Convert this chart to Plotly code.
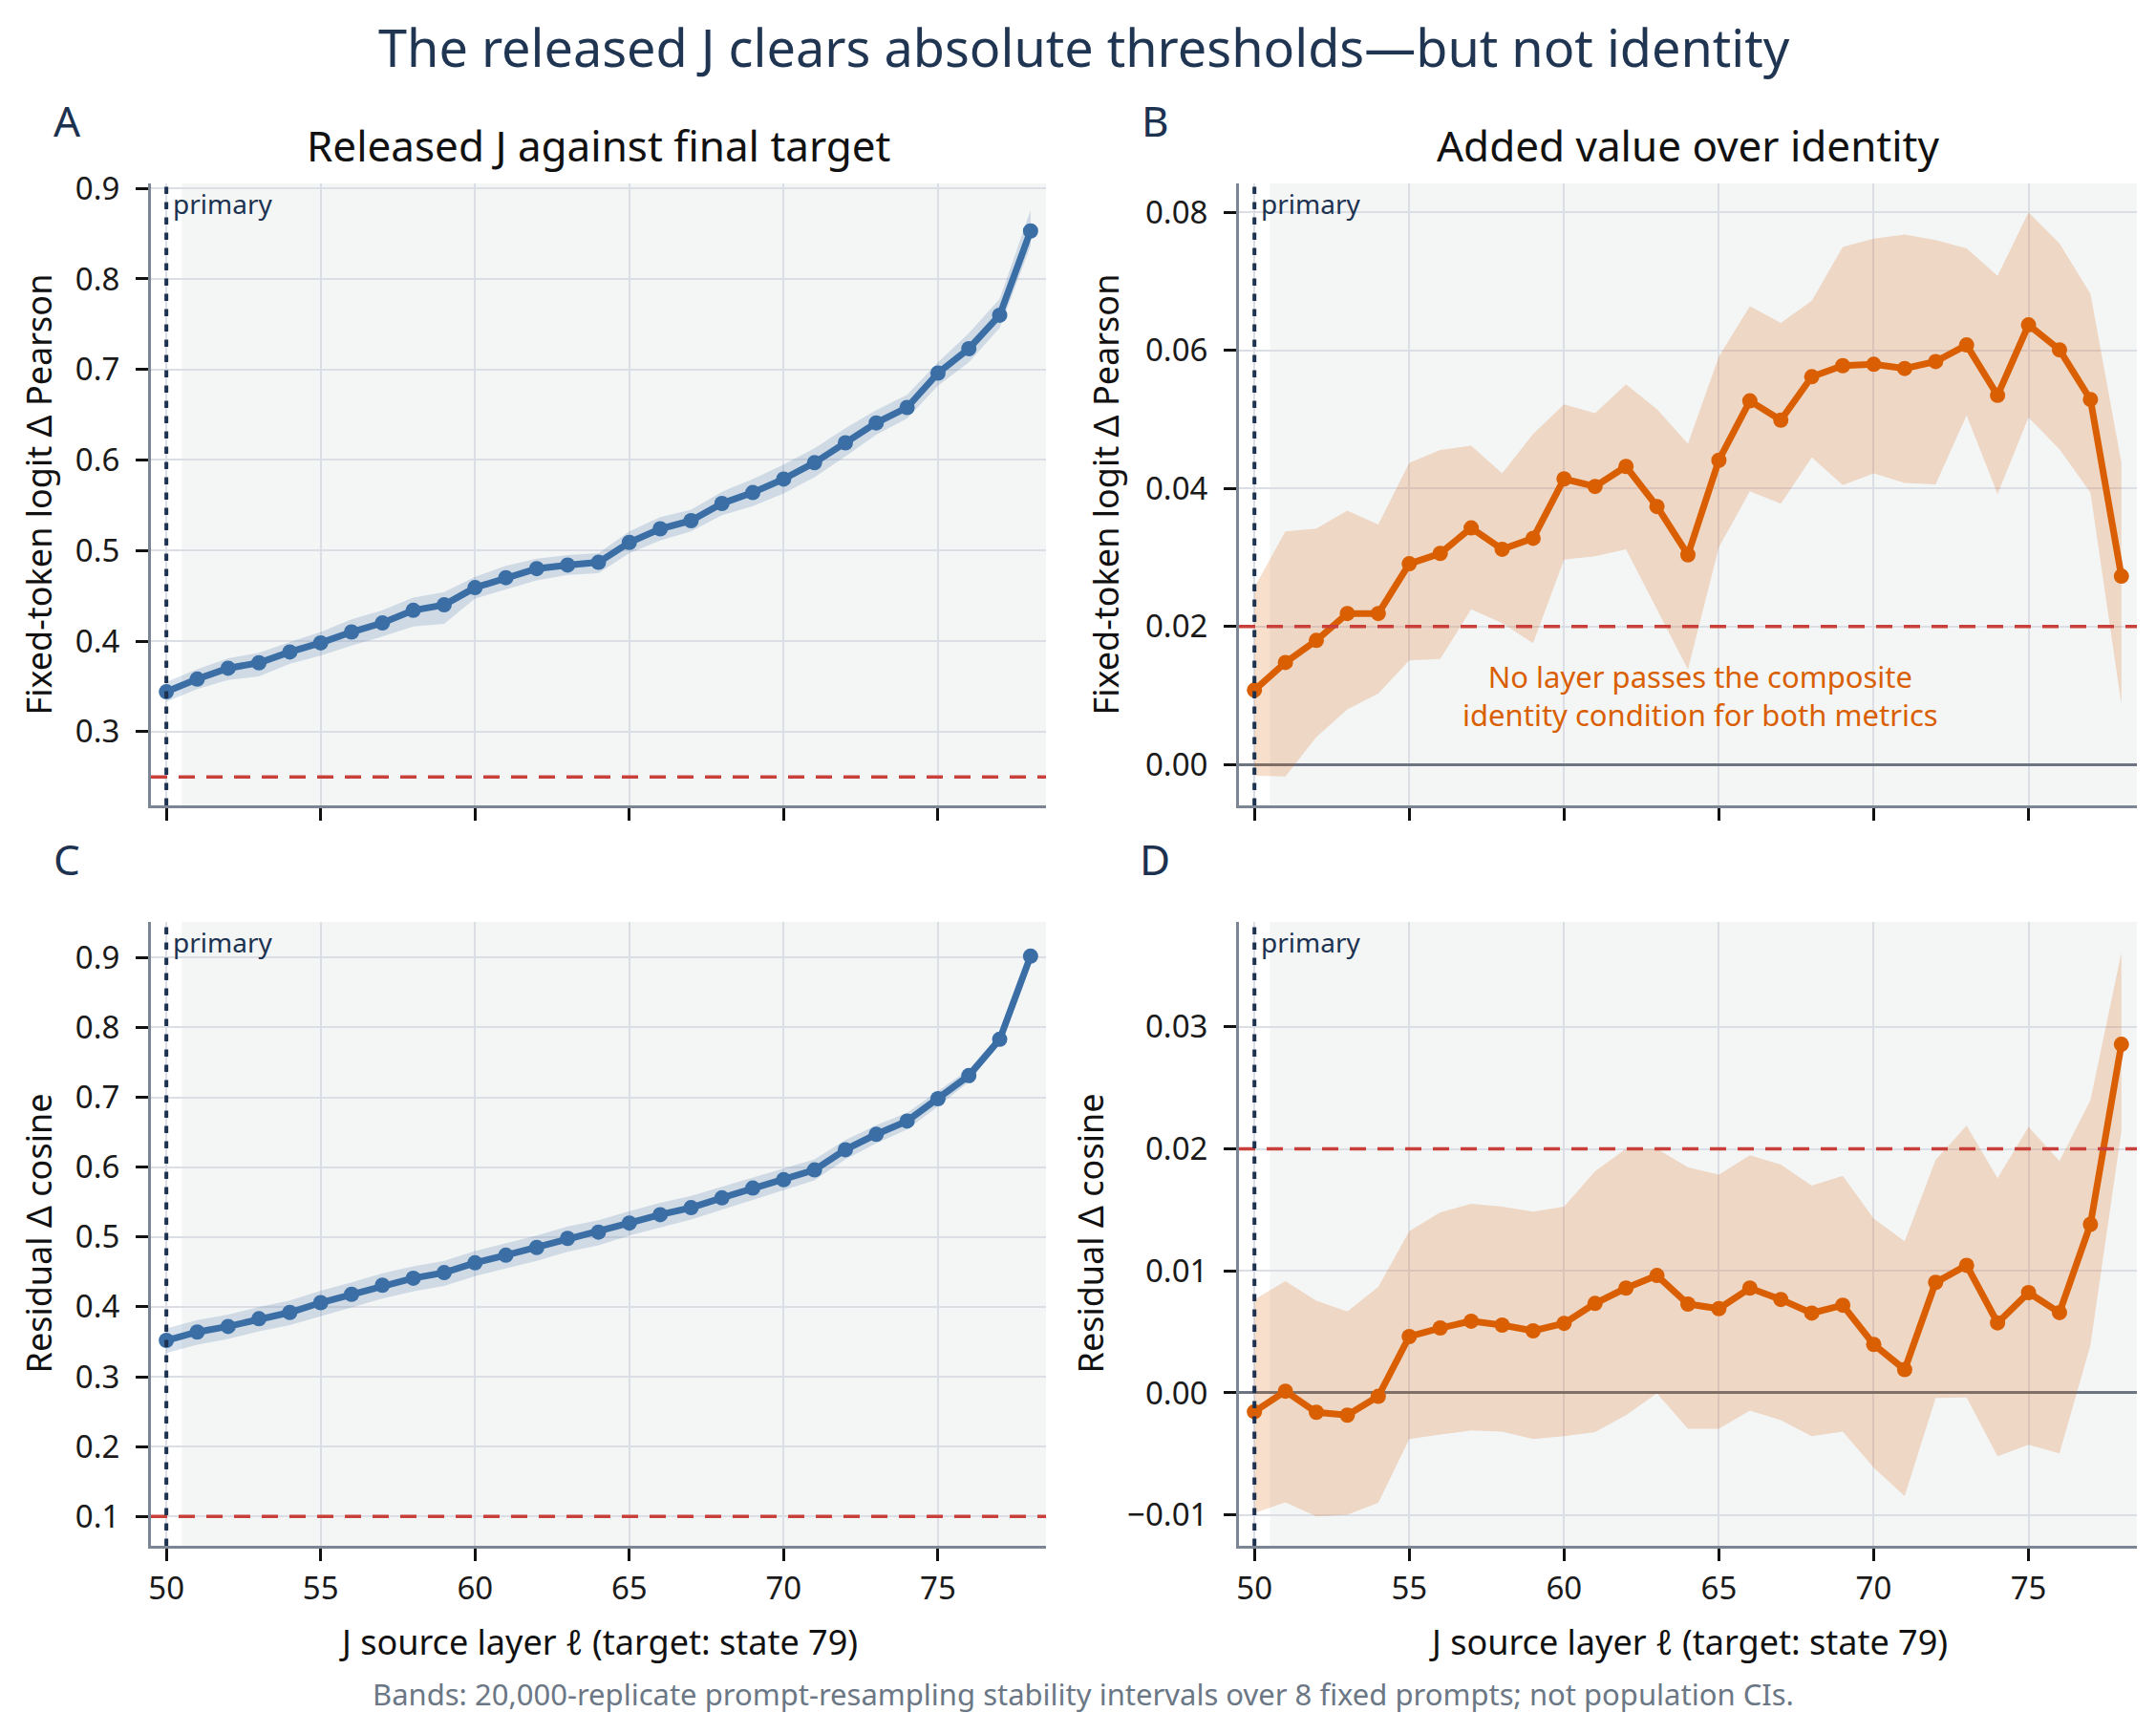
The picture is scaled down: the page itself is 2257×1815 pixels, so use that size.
import plotly.graph_objects as go

# J source layers
layers = list(range(50, 79))

# A: released J vs final target, fixed-token logit delta Pearson
a_mean = [0.344, 0.358, 0.370, 0.376, 0.388, 0.398, 0.410, 0.420, 0.434, 0.440,
          0.459, 0.470, 0.480, 0.484, 0.487, 0.509, 0.524, 0.533, 0.552, 0.564,
          0.579, 0.597, 0.619, 0.641, 0.658, 0.696, 0.723, 0.760, 0.853]
a_lo = [0.333, 0.347, 0.357, 0.361, 0.375, 0.384, 0.395, 0.405, 0.416, 0.419,
        0.447, 0.457, 0.467, 0.473, 0.475, 0.497, 0.511, 0.521, 0.539, 0.549,
        0.563, 0.581, 0.604, 0.628, 0.646, 0.682, 0.708, 0.746, 0.836]
a_hi = [0.355, 0.369, 0.381, 0.387, 0.399, 0.410, 0.424, 0.434, 0.448, 0.454,
        0.471, 0.483, 0.491, 0.495, 0.497, 0.521, 0.537, 0.545, 0.565, 0.579,
        0.595, 0.613, 0.635, 0.655, 0.672, 0.708, 0.740, 0.778, 0.876]

# B: added value over identity, fixed-token logit delta Pearson
b_mean = [0.0108, 0.0148, 0.0180, 0.0219, 0.0219, 0.0291, 0.0306, 0.0343, 0.0312, 0.0328,
          0.0414, 0.0403, 0.0432, 0.0374, 0.0304, 0.0441, 0.0527, 0.0499, 0.0562, 0.0578,
          0.0580, 0.0574, 0.0584, 0.0608, 0.0535, 0.0637, 0.0601, 0.0529, 0.0273]
b_lo = [-0.0016, -0.0017, 0.0040, 0.0080, 0.0103, 0.0151, 0.0153, 0.0225, 0.0205, 0.0176,
        0.0297, 0.0302, 0.0312, 0.0225, 0.0138, 0.0315, 0.0396, 0.0378, 0.0445, 0.0405,
        0.0422, 0.0408, 0.0406, 0.0506, 0.0392, 0.0503, 0.0457, 0.0394, 0.0087]
b_hi = [0.0257, 0.0338, 0.0342, 0.0368, 0.0348, 0.0437, 0.0456, 0.0462, 0.0422, 0.0479,
        0.0522, 0.0509, 0.0551, 0.0515, 0.0465, 0.0591, 0.0664, 0.0640, 0.0672, 0.0750,
        0.0762, 0.0768, 0.0760, 0.0748, 0.0708, 0.0800, 0.0755, 0.0682, 0.0437]

# C: released J vs final target, residual delta cosine
c_mean = [0.352, 0.364, 0.372, 0.383, 0.392, 0.406, 0.418, 0.431, 0.441, 0.449,
          0.463, 0.474, 0.485, 0.498, 0.507, 0.520, 0.532, 0.542, 0.556, 0.570,
          0.582, 0.596, 0.625, 0.647, 0.666, 0.698, 0.731, 0.783, 0.902]
c_lo = [0.334, 0.346, 0.354, 0.365, 0.374, 0.387, 0.399, 0.412, 0.422, 0.430,
        0.444, 0.455, 0.466, 0.479, 0.488, 0.502, 0.514, 0.525, 0.539, 0.553,
        0.566, 0.581, 0.611, 0.634, 0.654, 0.687, 0.722, 0.776, 0.898]
c_hi = [0.369, 0.381, 0.389, 0.400, 0.409, 0.423, 0.435, 0.448, 0.458, 0.466,
        0.480, 0.491, 0.502, 0.515, 0.524, 0.537, 0.549, 0.559, 0.572, 0.586,
        0.598, 0.611, 0.639, 0.660, 0.678, 0.709, 0.740, 0.790, 0.906]

# D: added value over identity, residual delta cosine
d_mean = [-0.00154, 0.00014, -0.00159, -0.00182, -0.00028, 0.00462, 0.00532, 0.00588, 0.00556, 0.00509,
          0.00570, 0.00733, 0.00859, 0.00962, 0.00728, 0.00691, 0.00859, 0.00766, 0.00654, 0.00719,
          0.00397, 0.00191, 0.00906, 0.01046, 0.00574, 0.00822, 0.00658, 0.01382, 0.02857]
d_lo = [-0.00985, -0.00896, -0.01013, -0.00999, -0.00901, -0.00378, -0.00341, -0.00308, -0.00317, -0.00378,
        -0.00355, -0.00322, -0.00182, -0.00005, -0.00294, -0.00294, -0.00145, -0.00224, -0.00355, -0.00317,
        -0.00612, -0.00845, -0.00042, -0.00037, -0.00518, -0.00425, -0.00495, 0.00392, 0.02143]
d_hi = [0.00766, 0.00915, 0.00756, 0.00668, 0.00868, 0.01326, 0.01480, 0.01550, 0.01527, 0.01485,
        0.01527, 0.01816, 0.02000, 0.02000, 0.01849, 0.01788, 0.01947, 0.01872, 0.01699, 0.01779,
        0.01429, 0.01242, 0.01910, 0.02190, 0.01760, 0.02180, 0.01900, 0.02400, 0.03610]

# thresholds per panel
thresholds = [0.25, 0.02, 0.10, 0.02]
primary_layer = 50

x_ticks = [50, 55, 60, 65, 70, 75]
a_ticks = [0.3, 0.4, 0.5, 0.6, 0.7, 0.8, 0.9]
b_ticks = [0.00, 0.02, 0.04, 0.06, 0.08]
c_ticks = [0.1, 0.2, 0.3, 0.4, 0.5, 0.6, 0.7, 0.8, 0.9]
d_ticks = [-0.01, 0.00, 0.01, 0.02, 0.03]
d_tick_text = ["\u22120.01", "0.00", "0.01", "0.02", "0.03"]

BLUE = "#3a6ea5"
ORANGE = "#d95f02"
RED = "#c9403a"
NAVY = "#1c3250"
SPINE = "#7b8594"
GRID = "#dcdee5"
BG = "#f4f6f6"
ZERO = "#6b7480"
FONT = "Noto Sans"

W, H = 2257, 1815
OFF = 8  # page body margin


def px(v):
    return (v - OFF) / W


def py(v):
    return 1 - (v - OFF) / H


# panel boxes in pixels (left, right, top, bottom)
boxes = [(158, 1095, 192, 843), (1297, 2237, 192, 843),
         (158, 1095, 965, 1618), (1297, 2237, 965, 1618)]

series = [(a_mean, a_lo, a_hi, BLUE, "rgba(58,110,165,0.2)"),
          (b_mean, b_lo, b_hi, ORANGE, "rgba(217,95,2,0.2)"),
          (c_mean, c_lo, c_hi, BLUE, "rgba(58,110,165,0.2)"),
          (d_mean, d_lo, d_hi, ORANGE, "rgba(217,95,2,0.2)")]

y_ranges = [[0.2185, 0.9055], [-0.0059, 0.0842], [0.058, 0.951], [-0.01253, 0.0386]]
y_titles = ["Fixed-token logit \u0394 Pearson", "Fixed-token logit \u0394 Pearson",
            "Residual \u0394 cosine", "Residual \u0394 cosine"]
y_title_x = [40, 1157, 40, 1141]

fig = go.Figure()

for i, (mean, lo, hi, col, band) in enumerate(series):
    sfx = "" if i == 0 else str(i + 1)
    xa, ya = "x" + sfx, "y" + sfx
    fig.add_trace(go.Scatter(x=layers, y=lo, mode="lines", line=dict(width=0),
                             xaxis=xa, yaxis=ya, showlegend=False, hoverinfo="skip"))
    fig.add_trace(go.Scatter(x=layers, y=hi, mode="lines", line=dict(width=0),
                             fill="tonexty", fillcolor=band,
                             xaxis=xa, yaxis=ya, showlegend=False, hoverinfo="skip"))
    fig.add_trace(go.Scatter(x=layers, y=mean, mode="lines+markers",
                             line=dict(color=col, width=7),
                             marker=dict(color=col, size=16),
                             xaxis=xa, yaxis=ya, showlegend=False))

    l, r, t, b = boxes[i]
    xkey = "xaxis" + sfx
    ykey = "yaxis" + sfx
    bottom_row = i >= 2
    fig.layout[xkey] = dict(
        domain=[px(l), px(r)], anchor=ya, range=[49.5, 78.5], automargin=False,
        tickvals=x_ticks, showticklabels=bottom_row,
        ticks="outside", ticklen=13, tickwidth=3, tickcolor="#111111",
        showline=True, linecolor=SPINE, linewidth=3,
        showgrid=True, gridcolor=GRID, gridwidth=2, zeroline=False,
        tickfont=dict(size=33, color="#1a1a1a", family=FONT),
        ticklabelstandoff=0,
    )
    yt = [a_ticks, b_ticks, c_ticks, d_ticks][i]
    if i == 0 or i == 2:
        ytext = ["%.1f" % v for v in yt]
    elif i == 1:
        ytext = ["%.2f" % v for v in yt]
    else:
        ytext = d_tick_text
    fig.layout[ykey] = dict(
        domain=[py(b), py(t)], anchor=xa, range=y_ranges[i], automargin=False,
        tickvals=yt, ticktext=ytext,
        ticks="outside", ticklen=13, tickwidth=3, tickcolor="#111111",
        showline=True, linecolor=SPINE, linewidth=3,
        showgrid=True, gridcolor=GRID, gridwidth=2,
        zeroline=(i % 2 == 1), zerolinecolor=ZERO, zerolinewidth=3,
        tickfont=dict(size=33, color="#1a1a1a", family=FONT),
        ticklabelstandoff=10,
    )

    # white strip left of the primary layer
    fig.add_shape(type="rect", xref=xa, yref=ya + " domain", x0=49.5, x1=50.5, y0=0, y1=1,
                  fillcolor="white", line=dict(width=0), layer="below")
    # threshold
    fig.add_shape(type="line", xref=xa + " domain", yref=ya, x0=0, x1=1,
                  y0=thresholds[i], y1=thresholds[i],
                  line=dict(color=RED, width=3.5, dash="17px,12px"))
    # primary layer marker
    fig.add_shape(type="line", xref=xa, yref=ya + " domain", x0=primary_layer, x1=primary_layer,
                  y0=0, y1=1, line=dict(color=NAVY, width=4, dash="7.5px,8.5px"))
    fig.add_annotation(x=primary_layer + 0.15, y=1, xref=xa, yref=ya + " domain",
                       text="primary", showarrow=False, xanchor="left", yanchor="top",
                       yshift=0, font=dict(size=28, color=NAVY, family=FONT))

    # y-axis title
    fig.add_annotation(x=px(y_title_x[i]), y=py((t + b) / 2), xref="paper", yref="paper",
                       text=y_titles[i], textangle=-90, showarrow=False,
                       xanchor="center", yanchor="middle",
                       font=dict(size=36, color="#111111", family=FONT))
    # panel letter
    fig.add_annotation(x=px(l - 88), y=py(t - 66), xref="paper", yref="paper",
                       text="ABCD"[i], showarrow=False, xanchor="center", yanchor="middle",
                       font=dict(size=44, color=NAVY, family=FONT))
    # x-axis title on bottom row
    if bottom_row:
        fig.add_annotation(x=px((l + r) / 2), y=py(1718), xref="paper", yref="paper",
                           text="J source layer \u2113 (target: state 79)", showarrow=False,
                           xanchor="center", yanchor="middle",
                           font=dict(size=36, color="#111111", family=FONT))

# subplot titles
for i, txt in enumerate(["Released J against final target", "Added value over identity"]):
    l, r, t, b = boxes[i]
    fig.add_annotation(x=px((l + r) / 2), y=py(152), xref="paper", yref="paper",
                       text=txt, showarrow=False, xanchor="center", yanchor="middle",
                       font=dict(size=44, color="#111111", family=FONT))

fig.add_annotation(x=64.4, y=0.0100, xref="x2", yref="y2",
                   text="No layer passes the composite<br>identity condition for both metrics",
                   showarrow=False, xanchor="center", yanchor="middle",
                   font=dict(size=31, color=ORANGE, family=FONT))

fig.add_annotation(x=px(1135), y=py(49), xref="paper", yref="paper",
                   text="The released J clears absolute thresholds\u2014but not identity",
                   showarrow=False, xanchor="center", yanchor="middle",
                   font=dict(size=54, color="#1f3552", family=FONT))
fig.add_annotation(x=px(1134), y=py(1773), xref="paper", yref="paper",
                   text="Bands: 20,000-replicate prompt-resampling stability intervals over 8 fixed prompts; not population CIs.",
                   showarrow=False, xanchor="center", yanchor="middle",
                   font=dict(size=31, color="#6b7785", family=FONT))

fig.update_layout(width=W, height=H,
                  margin=dict(l=0, r=0, t=0, b=0, pad=0, autoexpand=False),
                  paper_bgcolor="white", plot_bgcolor=BG,
                  font=dict(family=FONT, color="#111111"), showlegend=False)

fig.write_html("out.html")
